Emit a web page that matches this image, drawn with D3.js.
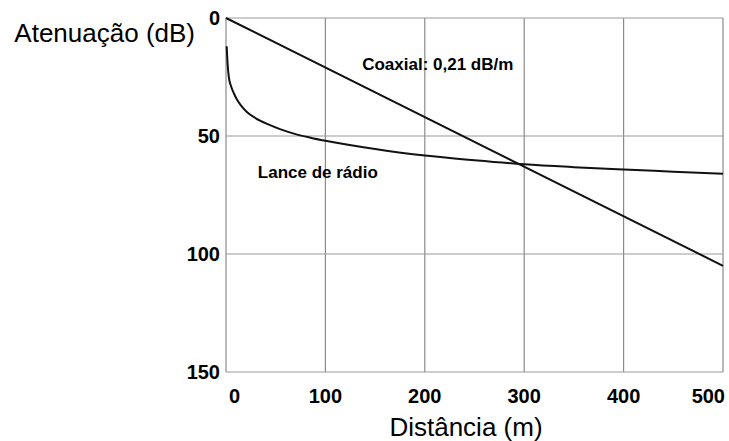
<!DOCTYPE html>
<html lang="pt">
<head>
<meta charset="utf-8">
<script src="https://d3js.org/d3.v7.min.js"></script>
<title>Atenuação</title>
<style>
  body { margin: 0; background: #fff; }
  svg { display: block; font-family: "Liberation Sans", Arial, sans-serif; }
</style>
</head>
<body>
<div id="chart"></div>
<script>
// data
const xTicks = [0, 100, 200, 300, 400, 500];
const yTicks = [0, 50, 100, 150];

const coaxDist = [0, 500];
const coaxAtt = [0, 105];

const radioDist = [0.7, 1.7, 3, 5, 8, 11, 15, 21, 30, 42, 55, 70, 85, 100, 150, 200, 250, 300, 350, 400, 450, 500];
const radioAtt = [12, 20, 25.5, 28.8, 32, 34.5, 37, 39.8, 42.5, 45, 47.2, 49.2, 50.7, 52, 55.5, 58.3, 60.3, 62, 63.2, 64.2, 65.1, 66];

const width = 729, height = 441;
const margin = { top: 18, right: 6, bottom: 69, left: 226 };

const svg = d3.select("#chart").append("svg")
  .attr("width", width)
  .attr("height", height);

const x = d3.scaleLinear().domain([0, 500]).range([margin.left, width - margin.right]);
const y = d3.scaleLinear().domain([0, 150]).range([margin.top, height - margin.bottom]);

// grid
svg.append("g")
  .selectAll("line")
  .data(xTicks)
  .join("line")
  .attr("x1", d => x(d)).attr("x2", d => x(d))
  .attr("y1", y(0)).attr("y2", y(150))
  .attr("stroke", "#8a8a8a")
  .attr("stroke-width", 1.2);

svg.append("g")
  .selectAll("line")
  .data(yTicks)
  .join("line")
  .attr("x1", x(0)).attr("x2", x(500))
  .attr("y1", d => y(d)).attr("y2", d => y(d))
  .attr("stroke", "#9a9a9a")
  .attr("stroke-width", 1.2);

// tick labels
svg.append("g")
  .selectAll("text")
  .data(xTicks)
  .join("text")
  .attr("x", d => x(d))
  .attr("y", 403)
  .attr("dx", (d, i) => i === 0 ? 3 : (i === xTicks.length - 1 ? 2 : 0))
  .attr("text-anchor", (d, i) => i === 0 ? "start" : (i === xTicks.length - 1 ? "end" : "middle"))
  .attr("font-size", 20)
  .attr("font-weight", "bold")
  .text(d => d);

svg.append("g")
  .selectAll("text")
  .data(yTicks)
  .join("text")
  .attr("x", x(0) - 6)
  .attr("y", d => y(d))
  .attr("dy", "0.36em")
  .attr("text-anchor", "end")
  .attr("font-size", 20)
  .attr("font-weight", "bold")
  .text(d => d);

// axis titles
svg.append("text")
  .attr("x", 195)
  .attr("y", 42)
  .attr("text-anchor", "end")
  .attr("font-size", 26)
  .text("Atenuação (dB)");

svg.append("text")
  .attr("x", 466)
  .attr("y", 436)
  .attr("text-anchor", "middle")
  .attr("font-size", 26)
  .text("Distância (m)");

// curves
const line = d3.line()
  .x(d => x(d[0]))
  .y(d => y(d[1]))
  .curve(d3.curveMonotoneX);

svg.append("path")
  .datum(d3.zip(coaxDist, coaxAtt))
  .attr("fill", "none")
  .attr("stroke", "#111")
  .attr("stroke-width", 2)
  .attr("d", line);

svg.append("path")
  .datum(d3.zip(radioDist, radioAtt))
  .attr("fill", "none")
  .attr("stroke", "#111")
  .attr("stroke-width", 2)
  .attr("d", line);

// curve labels
svg.append("text")
  .attr("x", x(137))
  .attr("y", y(22))
  .attr("font-size", 17)
  .attr("font-weight", "bold")
  .text("Coaxial: 0,21 dB/m");

svg.append("text")
  .attr("x", x(32))
  .attr("y", y(68))
  .attr("font-size", 17)
  .attr("font-weight", "bold")
  .text("Lance de rádio");
</script>
</body>
</html>
